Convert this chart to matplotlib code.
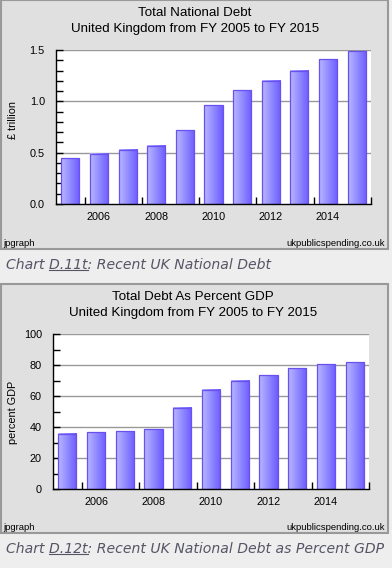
import numpy as np
import matplotlib
matplotlib.use("Agg")
import matplotlib.pyplot as plt
from matplotlib.patches import Rectangle
from matplotlib.colors import LinearSegmentedColormap

# data
years = [2005, 2006, 2007, 2008, 2009, 2010, 2011, 2012, 2013, 2014, 2015]
debt_trillion = [0.445, 0.49, 0.53, 0.565, 0.72, 0.96, 1.11, 1.20, 1.30, 1.41, 1.49]
debt_pct_gdp = [35.5, 36.6, 37.2, 38.5, 52.3, 63.9, 69.7, 73.3, 77.8, 80.4, 81.7]
label_years = [2006, 2008, 2010, 2012, 2014]

W, H = 392, 568
PAGE = "#eeeeee"
PANEL = "#e0e0e0"
grad = LinearSegmentedColormap.from_list("bar", ["#b8b8ff", "#6c5cff"])
gradimg = np.linspace(0, 1, 64).reshape(1, -1)

plt.rcParams["font.family"] = ["Liberation Sans", "DejaVu Sans"]

fig = plt.figure(figsize=(W / 100, H / 100), dpi=100, facecolor=PAGE)


def fx(px):
    return px / W


def fy(py):
    return 1 - py / H


def panel(top, bottom):
    fig.add_artist(Rectangle((fx(0.5), fy(bottom)), fx(387), (bottom - top) / H,
                             transform=fig.transFigure, facecolor=PANEL,
                             edgecolor="#999999", linewidth=1.5, zorder=0))


def bar_chart(rect, values, ymax, major, minor, fmt):
    l, t, r, b = rect
    ax = fig.add_axes([fx(l), fy(b), fx(r - l), (b - t) / H])
    ax.set_facecolor("white")
    width = 0.63
    for yr, v in zip(years, values):
        x0, x1 = yr - width / 2, yr + width / 2
        ax.imshow(gradimg, cmap=grad, aspect="auto", extent=[x0, x1, 0, v],
                  zorder=2, interpolation="bilinear")
        ax.add_patch(Rectangle((x0, 0), width, v, facecolor="none",
                               edgecolor="#6a50ee", linewidth=0.9, zorder=3))
    ax.set_xlim(years[0] - 0.5, years[-1] + 0.5)
    ax.set_ylim(0, ymax)
    for g in np.arange(major, ymax + major / 2, major):
        ax.axhline(g, color="#999999", linewidth=1.0, zorder=1)
    for s in ["top", "right"]:
        ax.spines[s].set_visible(False)
    for s in ["left", "bottom"]:
        ax.spines[s].set_color("black")
        ax.spines[s].set_linewidth(1.0)
        ax.spines[s].set_zorder(4)
    ax.set_yticks(np.arange(0, ymax + major / 2, major))
    ax.set_yticklabels([fmt(v) for v in np.arange(0, ymax + major / 2, major)])
    ax.set_yticks(np.arange(0, ymax + minor / 2, minor), minor=True)
    ax.tick_params(axis="y", which="both", direction="in", length=5, width=1,
                   labelsize=7.8, pad=8)
    # tick marks at slot boundaries, labels at bar centres
    ax.set_xticks([y + 0.5 for y in [2005, 2007, 2009, 2011, 2013, 2015]])
    ax.set_xticklabels([])
    ax.set_xticks(label_years, minor=True)
    ax.set_xticklabels([str(y) for y in label_years], minor=True)
    ax.tick_params(axis="x", which="major", direction="in", length=5, width=1)
    ax.tick_params(axis="x", which="minor", length=0, labelsize=7.8, pad=6)
    return ax


def caption(x, y, pre, link, post):
    props = dict(fontsize=10.1, style="italic", color="#555566",
                 family="DejaVu Sans", va="center", ha="left")
    t = fig.text(fx(x), fy(y), pre + link + post, **props)
    r = fig.canvas.get_renderer()
    full = fig.text(0, 0, pre + link, **props)
    part = fig.text(0, 0, link, **props)
    w2 = full.get_window_extent(r).width
    w1 = part.get_window_extent(r).width
    full.remove()
    part.remove()
    x1 = x + w2
    x0 = x1 - w1
    fig.add_artist(plt.Line2D([fx(x0), fx(x1)], [fy(y + 4.5), fy(y + 4.5)],
                              transform=fig.transFigure, color="#555566",
                              linewidth=0.8))
    return t


# chart 1
panel(0, 249)
fig.text(fx(195), fy(13), "Total National Debt", ha="center", va="center", fontsize=9.6)
fig.text(fx(195), fy(29), "United Kingdom from FY 2005 to FY 2015", ha="center",
         va="center", fontsize=9.6)
bar_chart((56, 50, 371, 204), debt_trillion, 1.5, 0.5, 0.1, lambda v: f"{v:.1f}")
fig.text(fx(13), fy(120), "£ trillion", rotation=90, ha="center", va="center", fontsize=7.8)
fig.text(fx(3), fy(243), "jpgraph", ha="left", va="center", fontsize=6.8)
fig.text(fx(385), fy(243), "ukpublicspending.co.uk", ha="right", va="center", fontsize=6.8)
caption(6, 265, "Chart ", "D.11t", ": Recent UK National Debt")

# chart 2
panel(284, 533)
fig.text(fx(193), fy(297), "Total Debt As Percent GDP", ha="center", va="center", fontsize=9.6)
fig.text(fx(193), fy(313), "United Kingdom from FY 2005 to FY 2015", ha="center",
         va="center", fontsize=9.6)
bar_chart((53, 334, 369, 489), debt_pct_gdp, 100, 20, 10, lambda v: f"{v:.0f}")
fig.text(fx(13), fy(412), "percent GDP", rotation=90, ha="center", va="center", fontsize=7.8)
fig.text(fx(3), fy(528), "jpgraph", ha="left", va="center", fontsize=6.8)
fig.text(fx(385), fy(528), "ukpublicspending.co.uk", ha="right", va="center", fontsize=6.8)
caption(6, 549, "Chart ", "D.12t", ": Recent UK National Debt as Percent GDP")

fig.savefig("out.png", dpi=100, facecolor=PAGE)
